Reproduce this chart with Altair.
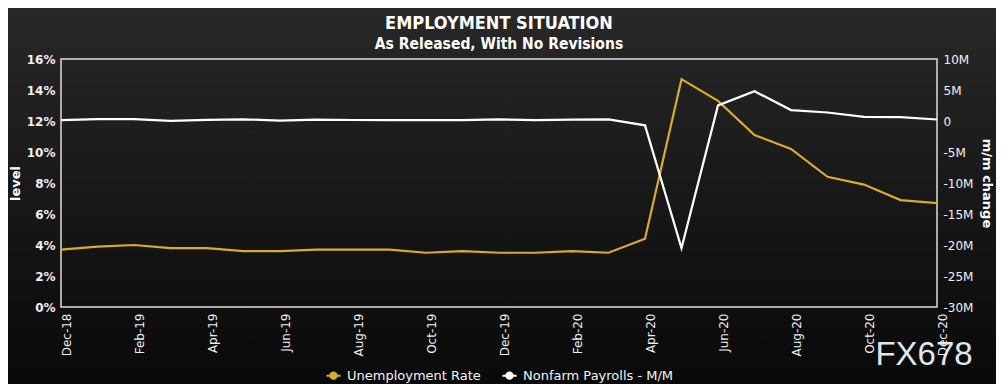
import altair as alt
import pandas as pd

months = ["Dec-18", "Jan-19", "Feb-19", "Mar-19", "Apr-19", "May-19", "Jun-19", "Jul-19",
          "Aug-19", "Sep-19", "Oct-19", "Nov-19", "Dec-19", "Jan-20", "Feb-20", "Mar-20",
          "Apr-20", "May-20", "Jun-20", "Jul-20", "Aug-20", "Sep-20", "Oct-20", "Nov-20", "Dec-20"]
unemployment = [3.7, 3.9, 4.0, 3.8, 3.8, 3.6, 3.6, 3.7, 3.7, 3.7, 3.5, 3.6, 3.5, 3.5, 3.6, 3.5,
                4.4, 14.7, 13.3, 11.1, 10.2, 8.4, 7.9, 6.9, 6.7]
payrolls_m = [0.155, 0.312, 0.304, 0.020, 0.196, 0.263, 0.075, 0.224, 0.164, 0.130, 0.136, 0.128,
              0.266, 0.145, 0.225, 0.273, -0.701, -20.5, 2.509, 4.8, 1.763, 1.371, 0.661, 0.638, 0.245]
series_names = ["Unemployment Rate", "Nonfarm Payrolls - M/M"]
series_colors = ["#d8ac2c", "#ffffff"]
left_ticks = [0, 2, 4, 6, 8, 10, 12, 14, 16]
right_ticks = [-30, -25, -20, -15, -10, -5, 0, 5, 10]
tick_months = months[::2]

W, H = 876, 248
PAD = {"left": 53, "top": 51, "right": 988 - 53 - W, "bottom": 376 - 51 - H}

df = pd.DataFrame({
    "month": months * 2,
    "series": [series_names[0]] * len(months) + [series_names[1]] * len(months),
    "value": unemployment + payrolls_m,
})

base = alt.Chart(df)
x_enc = alt.X("month:O", sort=months, title=None,
              scale=alt.Scale(type="point", padding=0),
              axis=alt.Axis(values=tick_months, labelAngle=-90, labelPadding=6,
                            labelBaseline="top", labelColor="#eeeeee", zindex=2))
legend_path = "M-1,0H1M0.45,0A0.45,0.45,0,1,1,-0.45,0A0.45,0.45,0,1,1,0.45,0Z"
color_enc = alt.Color("series:N", sort=series_names,
                      scale=alt.Scale(domain=series_names, range=series_colors),
                      legend=alt.Legend(title=None, orient="none", direction="horizontal",
                                        legendX=264, legendY=308, symbolType=legend_path,
                                        symbolSize=200, symbolStrokeWidth=2, symbolOpacity=1,
                                        labelFontSize=13, labelColor="#f2f2f2",
                                        labelFont="DejaVu Sans", labelOffset=5,
                                        columnPadding=17, zindex=2))

bg = alt.Chart(pd.DataFrame({"k": [0]})).mark_rect(
    fill=alt.Gradient(gradient="linear", x1=0, x2=0, y1=0, y2=1,
                      stops=[alt.GradientStop(color="#282828", offset=0),
                             alt.GradientStop(color="#181818", offset=0.5),
                             alt.GradientStop(color="#090909", offset=1)])
).encode(x=alt.value(-PAD["left"]), x2=alt.value(W + PAD["right"]),
         y=alt.value(-PAD["top"]), y2=alt.value(H + PAD["bottom"]))

border = alt.Chart(pd.DataFrame({"k": [0]})).mark_rect(
    filled=False, stroke="#dddddd", strokeWidth=1.5
).encode(x=alt.value(0), x2=alt.value(W), y=alt.value(0), y2=alt.value(H))

ur = base.transform_filter(alt.datum.series == series_names[0]).mark_line(strokeWidth=2.2).encode(
    x=x_enc,
    y=alt.Y("value:Q", scale=alt.Scale(domain=[0, 16], nice=False, zero=False),
            axis=alt.Axis(orient="left", values=left_ticks, labelExpr="datum.value + '%'",
                          title="level", titlePadding=4, labelPadding=6,
                          labelFontWeight="bold", zindex=2)),
    color=color_enc,
)

nfp = base.transform_filter(alt.datum.series == series_names[1]).mark_line(strokeWidth=2.2).encode(
    x=x_enc,
    y=alt.Y("value:Q", scale=alt.Scale(domain=[-30, 10], nice=False, zero=False),
            axis=alt.Axis(orient="right", values=right_ticks,
                          labelExpr="datum.value == 0 ? '0' : datum.value + 'M'",
                          title="m/m change", titleAngle=90, titlePadding=7, labelPadding=6,
                          zindex=2)),
    color=color_enc,
)

legend_pts = base.transform_filter("false").mark_point(filled=True).encode(
    x=x_enc, color=color_enc)

watermark = alt.Chart(pd.DataFrame({"k": [0]})).mark_text(
    text="FX678", font="Liberation Sans", fontSize=33, color="#dfe6ee",
    align="center", baseline="middle"
).encode(x=alt.value(863), y=alt.value(296))

chart = alt.layer(bg, border, ur, nfp, legend_pts, watermark).resolve_scale(
    y="independent"
).properties(
    width=W, height=H,
    padding=PAD,
    autosize=alt.AutoSizeParams(type="none"),
    background="#181818",
    title=alt.Title("EMPLOYMENT SITUATION", subtitle="As Released, With No Revisions",
                    anchor="middle", frame="group", color="#ffffff", subtitleColor="#ffffff",
                    font="Liberation Sans Narrow, DejaVu Sans Condensed, sans-serif",
                    subtitleFont="Liberation Sans Narrow, DejaVu Sans Condensed, sans-serif",
                    fontSize=18, subtitleFontSize=15.5, fontWeight="bold",
                    subtitleFontWeight="bold", offset=0, dy=44, subtitlePadding=4, zindex=2),
).configure_view(stroke=None).configure_axis(
    domain=False, ticks=False, grid=False, labelFont="DejaVu Sans", labelFontSize=12,
    labelColor="#f0f0f0", titleFont="DejaVu Sans", titleFontSize=13, titleFontWeight="bold",
    titleColor="#ffffff"
)

chart.save("out.html", embed_options={"renderer": "svg", "actions": False})
